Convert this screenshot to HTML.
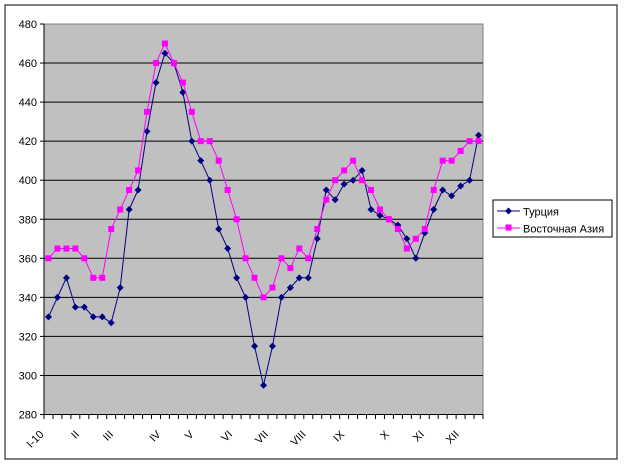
<!DOCTYPE html>
<html><head><meta charset="utf-8"><style>
html,body{margin:0;padding:0;background:#fff;}
svg{display:block;font-family:"Liberation Sans",Arial,sans-serif;}
</style></head><body>
<svg id="s" width="624" height="466" xmlns="http://www.w3.org/2000/svg">
<rect x="0" y="0" width="624" height="466" fill="#fff"/>
<rect x="5" y="5" width="612" height="454" fill="#fff" stroke="#000" stroke-width="1"/>
<rect x="44" y="24" width="439" height="390.5" fill="#c0c0c0" stroke="#808080" stroke-width="1"/>
<g id="grid"></g>
<g id="ax"></g>
<g id="ser"></g>
<rect x="493" y="200" width="119" height="37" fill="#fff" stroke="#000" stroke-width="1"/>
<line x1="497" y1="211" x2="520" y2="211" stroke="#000080" stroke-width="1"/>
<path d="M508.5 207.5 L512 211 L508.5 214.5 L505 211Z" fill="#000080"/>
<text x="523" y="215.5" font-size="11">Турция</text>
<line x1="497" y1="228" x2="520" y2="228" stroke="#ff00ff" stroke-width="1"/>
<rect x="505.5" y="224.5" width="6" height="6" fill="#ff00ff"/>
<text x="523" y="232.5" font-size="11">Восточная Азия</text>
</svg>
<script>
var NS="http://www.w3.org/2000/svg";
function el(p,n,a,t){var e=document.createElementNS(NS,n);for(var k in a)e.setAttribute(k,a[k]);if(t)e.textContent=t;document.getElementById(p).appendChild(e);return e;}
function Y(v){return 414.5-(v-280)*1.9525;}
for(var v=280;v<=480;v+=20){var y=Y(v);
 if(v>280&&v<480)el("grid","line",{x1:44,x2:483,y1:y,y2:y,stroke:"#000","stroke-width":1});
 el("ax","line",{x1:40,x2:44,y1:y,y2:y,stroke:"#000"});
 el("ax","text",{x:37,y:y+4,"font-size":11,"text-anchor":"end"},String(v));}
el("ax","line",{x1:44,x2:44,y1:24,y2:414.5,stroke:"#000"});
el("ax","line",{x1:44,x2:483,y1:414.5,y2:414.5,stroke:"#000"});
var w=439/49;
for(var i=0;i<=49;i++){var x=44+i*w;el("ax","line",{x1:x,x2:x,y1:414.5,y2:419,stroke:"#000"});}
var labs=[["I-10",0],["II",3.5],["III",7.3],["IV",12.6],["V",16.3],["VI",20.6],["VII",24.6],["VIII",28.8],["IX",33.1],["X",38.1],["XI",42],["XII",45.9]];
labs.forEach(function(l,k){var x=44+w/2+l[1]*w-4+(k?4:0),y=435;
 el("ax","text",{x:x,y:y,"font-size":11,"text-anchor":"end",transform:"rotate(-45 "+x+" "+y+")"},l[0]);});
var T=[330,340,350,335,335,330,330,327,345,385,395,425,450,465,460,445,420,410,400,375,365,350,340,315,295,315,340,345,350,350,370,395,390,398,400,405,385,382,380,377,370,360,373,385,395,392,397,400,423];
var P=[360,365,365,365,360,350,350,375,385,395,405,435,460,470,460,450,435,420,420,410,395,380,360,350,340,345,360,355,365,360,375,390,400,405,410,400,395,385,380,375,365,370,375,395,410,410,415,420,420];
function X(i){return 44+w/2+i*w;}
function line(d,c){el("ser","polyline",{points:d.map(function(v,i){return X(i).toFixed(1)+","+Y(v).toFixed(1)}).join(" "),fill:"none",stroke:c,"stroke-width":1});}
line(T,"#000080");
T.forEach(function(v,i){var x=X(i),y=Y(v);el("ser","path",{d:"M"+x+" "+(y-3.5)+"L"+(x+3.5)+" "+y+"L"+x+" "+(y+3.5)+"L"+(x-3.5)+" "+y+"Z",fill:"#000080"});});
line(P,"#ff00ff");
P.forEach(function(v,i){var x=X(i),y=Y(v);el("ser","rect",{x:x-3,y:y-3,width:6,height:6,fill:"#ff00ff"});});
</script>
</body></html>
